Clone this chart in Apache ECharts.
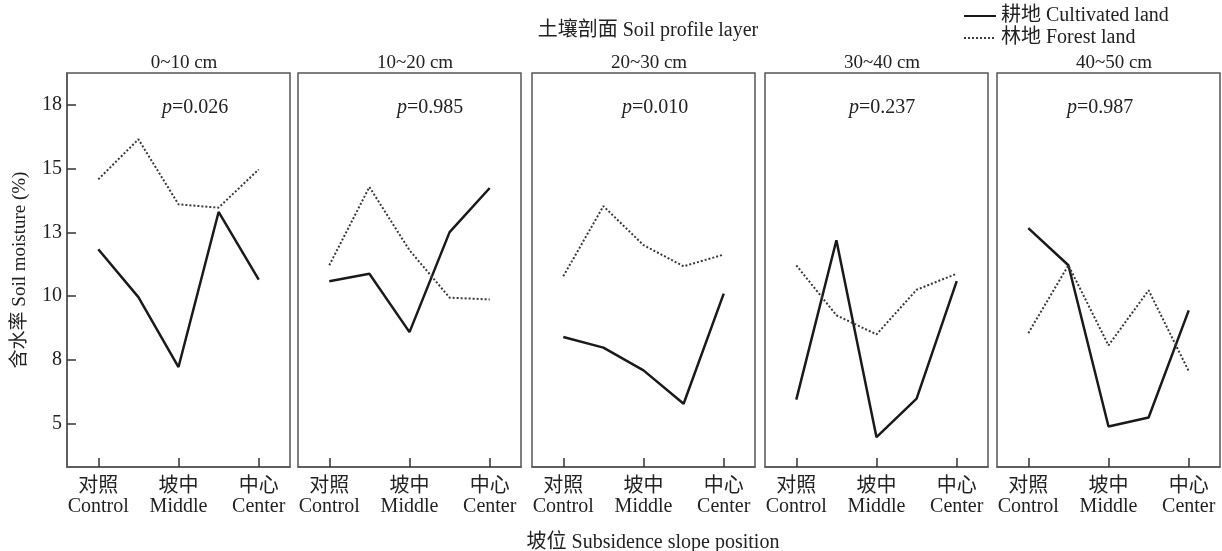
<!DOCTYPE html>
<html>
<head>
<meta charset="utf-8">
<script src="https://cdn.jsdelivr.net/npm/echarts@6/dist/echarts.min.js"></script>
<style>
html,body{margin:0;padding:0;background:#fff;}
#main{width:1222px;height:551px;}
</style>
</head>
<body>
<div id="main"></div>
<script>
// 土层 / layers
var layers = ['0~10 cm', '10~20 cm', '20~30 cm', '30~40 cm', '40~50 cm'];
var pValues = ['0.026', '0.985', '0.010', '0.237', '0.987'];
// x positions (5 points, labels on 0, 2, 4)
var positions = [0, 1, 2, 3, 4];
var xTickValues = [0, 2, 4];
var xTickLabels = ['对照\nControl', '坡中\nMiddle', '中心\nCenter'];
var yTickValues = [5, 7.5, 10, 12.5, 15, 17.5];
var yTickLabels = ['5', '8', '10', '13', '15', '18'];

// 耕地 Cultivated land
var cultivated = [
	[11.84, 9.96, 7.22, 13.30, 10.65],
	[10.58, 10.88, 8.59, 12.51, 14.24],
	[8.40, 7.98, 7.09, 5.78, 10.10],
	[5.94, 12.19, 4.47, 5.98, 10.59],
	[12.67, 11.21, 4.89, 5.24, 9.44]
];
// 林地 Forest land
var forest = [
	[14.58, 16.15, 13.60, 13.47, 14.97],
	[11.21, 14.28, 11.80, 9.94, 9.87],
	[10.78, 13.53, 12.00, 11.17, 11.63],
	[11.21, 9.25, 8.50, 10.25, 10.88],
	[8.55, 11.21, 8.07, 10.23, 7.06]
];

var FONT = '"Liberation Serif", "Noto Sans CJK SC", serif';
var gridLeft = [67, 298, 532, 765, 997];
var pLeft = [157, 392, 617, 844, 1062];

function pairs(arr){
	return arr.map(function(v, i){ return [positions[i], v]; });
}

window.onload = function(){
	var myChart = echarts.init(document.getElementById('main'));
	var grid = [], xAxis = [], yAxis = [], series = [], title = [];

	for (var k = 0; k < 5; k++) {
		grid.push({
			left: gridLeft[k], top: 73, width: 223, height: 394,
			show: true, borderColor: '#555', borderWidth: 1.5,
			backgroundColor: 'transparent'
		});
		xAxis.push({
			type: 'value', gridIndex: k, min: -0.78, max: 4.78,
			axisLine: { show: true, onZero: false, lineStyle: { color: '#555', width: 1.5 } },
			axisTick: { show: true, inside: true, length: 9, customValues: xTickValues,
				lineStyle: { color: '#333', width: 1.5 } },
			axisLabel: {
				customValues: xTickValues,
				margin: 10,
				color: '#222', fontFamily: FONT, fontSize: 20, lineHeight: 20,
				formatter: function(v){ return xTickLabels[xTickValues.indexOf(v)]; }
			},
			splitLine: { show: false }
		});
		yAxis.push({
			type: 'value', gridIndex: k, min: 3.3, max: 18.75,
			name: k === 0 ? '含水率 Soil moisture (%)' : '',
			nameLocation: 'middle', nameGap: 37, nameRotate: 90,
			nameTextStyle: { color: '#222', fontFamily: FONT, fontSize: 19 },
			axisLine: { show: k === 0, onZero: false, lineStyle: { color: '#555', width: 1.5 } },
			axisTick: { show: k === 0, inside: true, length: 9, customValues: yTickValues,
				lineStyle: { color: '#333', width: 1.5 } },
			axisLabel: {
				show: k === 0,
				customValues: yTickValues,
				margin: 5,
				color: '#222', fontFamily: FONT, fontSize: 20,
				formatter: function(v){ return yTickLabels[yTickValues.indexOf(v)]; }
			},
			splitLine: { show: false }
		});
		series.push({
			name: '耕地 Cultivated land', type: 'line',
			xAxisIndex: k, yAxisIndex: k,
			symbol: 'none', data: pairs(cultivated[k]),
			lineStyle: { color: '#1a1a1a', width: 2.5 },
			itemStyle: { color: '#1a1a1a' }
		});
		series.push({
			name: '林地 Forest land', type: 'line',
			xAxisIndex: k, yAxisIndex: k,
			symbol: 'none', data: pairs(forest[k]),
			lineStyle: { color: '#3a3a3a', width: 2, type: [2, 2] },
			itemStyle: { color: '#3a3a3a' }
		});
		title.push({
			text: layers[k],
			left: gridLeft[k] + 112, top: 49, textAlign: 'center',
			textStyle: { color: '#222', fontFamily: FONT, fontSize: 19, fontWeight: 'normal' }
		});
		title.push({
			text: '{i|p}=' + pValues[k],
			left: pLeft[k], top: 93,
			textStyle: {
				color: '#222', fontFamily: FONT, fontSize: 20, fontWeight: 'normal',
				rich: { i: { fontStyle: 'italic', fontFamily: FONT, fontSize: 20, color: '#222' } }
			}
		});
	}

	title.push({
		text: '土壤剖面 Soil profile layer',
		left: 643, top: 16, textAlign: 'center',
		textStyle: { color: '#222', fontFamily: FONT, fontSize: 20, fontWeight: 'normal' }
	});
	title.push({
		text: '坡位 Subsidence slope position',
		left: 648, top: 528, textAlign: 'center',
		textStyle: { color: '#222', fontFamily: FONT, fontSize: 20, fontWeight: 'normal' }
	});

	var option = {
		animation: false,
		backgroundColor: '#fff',
		title: title,
		legend: {
			orient: 'vertical', left: 958, top: 1,
			itemWidth: 32, itemHeight: 14, itemGap: 2,
			itemStyle: { opacity: 0 },
			textStyle: { color: '#222', fontFamily: FONT, fontSize: 20 },
			data: ['耕地 Cultivated land', '林地 Forest land']
		},
		grid: grid,
		xAxis: xAxis,
		yAxis: yAxis,
		series: series
	};
	myChart.setOption(option);
};
</script>
</body>
</html>
